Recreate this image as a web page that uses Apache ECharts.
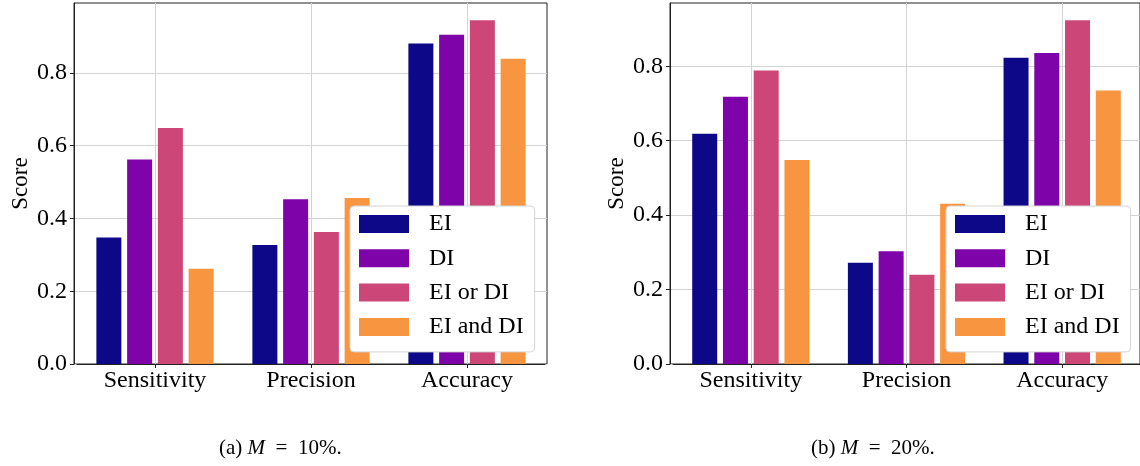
<!DOCTYPE html>
<html>
<head>
<meta charset="utf-8">
<script src="https://cdn.jsdelivr.net/npm/echarts@6/dist/echarts.min.js"></script>
<style>html,body{margin:0;padding:0;background:#fff;}#c{width:1140px;height:466px;}</style>
</head>
<body>
<div id="c"></div>
<script>
const categories = ['Sensitivity', 'Precision', 'Accuracy'];
const seriesNames = ['EI', 'DI', 'EI or DI', 'EI and DI'];
const colors = ['#0d0887', '#7e03a8', '#cc4778', '#f89540'];
// (a) M = 10%
const valuesA_EI = [0.348, 0.327, 0.881];
const valuesA_DI = [0.562, 0.453, 0.905];
const valuesA_EIorDI = [0.649, 0.363, 0.945];
const valuesA_EIandDI = [0.262, 0.456, 0.839];
// (b) M = 20%
const valuesB_EI = [0.619, 0.272, 0.823];
const valuesB_DI = [0.718, 0.303, 0.836];
const valuesB_EIorDI = [0.789, 0.240, 0.924];
const valuesB_EIandDI = [0.548, 0.431, 0.735];
const yTicks = [0, 0.2, 0.4, 0.6, 0.8];
const captions = ['(a)', '(b)'];
const captionValues = ['10%', '20%'];

const chart = echarts.init(document.getElementById('c'));
const FONT = 'Liberation Serif';
const gridColor = '#d3d3d3';

const panels = [
  { vals: [valuesA_EI, valuesA_DI, valuesA_EIorDI, valuesA_EIandDI], frameLeft: 74, catLeft: 77, legendLeft: 350, capX: 281 },
  { vals: [valuesB_EI, valuesB_DI, valuesB_EIorDI, valuesB_EIandDI], frameLeft: 670, catLeft: 673, legendLeft: 946, capX: 873 }
];

const grids = [], xAxes = [], yAxes = [], series = [], legends = [], graphics = [];
panels.forEach((p, pi) => {
  let mx = 0;
  p.vals.forEach(a => a.forEach(v => { if (v > mx) mx = v; }));
  const ymax = mx * 1.05;
  grids.push({ left: p.frameLeft, top: 3, width: 473, height: 361, show: true, borderColor: '#222', borderWidth: 1, backgroundColor: 'transparent' });
  grids.push({ left: p.catLeft, top: 3, width: 468, height: 361 });
  const fg = pi * 2, cg = pi * 2 + 1;
  xAxes.push({ gridIndex: fg, type: 'value', min: 0, max: 1, show: false });
  yAxes.push({
    gridIndex: fg, type: 'value', min: 0, max: ymax, interval: 0.2,
    name: 'Score', nameLocation: 'middle', nameGap: 42,
    nameTextStyle: { fontFamily: FONT, fontSize: 23, color: '#000' },
    axisLine: { show: true, lineStyle: { color: '#222' } },
    axisTick: { show: true, length: 4, lineStyle: { color: '#222' }, customValues: yTicks },
    axisLabel: { fontFamily: FONT, fontSize: 24, color: '#000', margin: 7, customValues: yTicks, formatter: v => v.toFixed(1) },
    splitLine: { show: true, lineStyle: { color: gridColor, width: 1 } }
  });
  xAxes.push({
    gridIndex: cg, type: 'category', data: categories,
    axisLine: { show: true, lineStyle: { color: '#222' } },
    axisTick: { show: true, alignWithLabel: true, length: 4, lineStyle: { color: '#222' } },
    axisLabel: { fontFamily: FONT, fontSize: 24, color: '#000', margin: 5 },
    splitLine: { show: true, alignWithLabel: true, lineStyle: { color: gridColor, width: 1 } }
  });
  yAxes.push({ gridIndex: cg, type: 'value', min: 0, max: ymax, show: false, splitLine: { show: false } });
  p.vals.forEach((arr, si) => {
    series.push({
      type: 'bar', name: seriesNames[si], xAxisIndex: pi * 2 + 1, yAxisIndex: pi * 2 + 1,
      data: arr, barWidth: 25, barGap: '23%', itemStyle: { color: colors[si] }, z: 2
    });
  });
  legends.push({
    orient: 'vertical', left: p.legendLeft, top: 206, selectedMode: false,
    data: seriesNames, icon: 'rect', itemWidth: 50, itemHeight: 18, itemGap: 10.3,
    padding: [6, 11, 13, 9],
    backgroundColor: '#ffffff', borderColor: '#d4d4d4', borderWidth: 1, borderRadius: 4,
    textStyle: { fontFamily: FONT, fontSize: 24, color: '#000', lineHeight: 24, padding: [0, 0, 0, 15] },
    z: 10
  });
  graphics.push({
    type: 'text', left: p.capX - 62, top: 438,
    style: {
      text: '{n|' + captions[pi] + ' }{i|M}{n|  =  ' + captionValues[pi] + '.}',
      rich: {
        n: { fontFamily: FONT, fontSize: 21, fill: '#000' },
        i: { fontFamily: FONT, fontSize: 21, fontStyle: 'italic', fill: '#000' }
      }
    }
  });
});

chart.setOption({
  animation: false,
  color: colors,
  grid: grids,
  xAxis: xAxes,
  yAxis: yAxes,
  series: series,
  legend: legends,
  graphic: graphics
});
</script>
</body>
</html>
